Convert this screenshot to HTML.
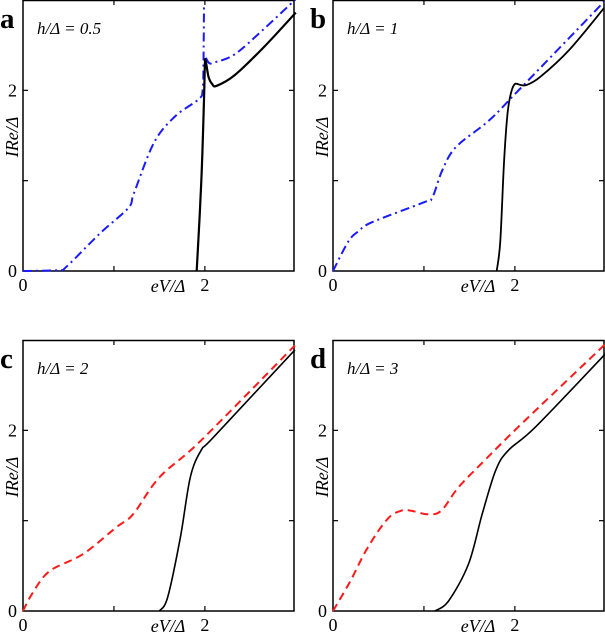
<!DOCTYPE html>
<html><head><meta charset="utf-8"><style>
body{margin:0;background:#fff}
svg{display:block;font-family:"Liberation Serif",serif}
</style></head><body>
<svg id="chart" width="605" height="634" viewBox="0 0 605 634" xmlns="http://www.w3.org/2000/svg"></svg>
<script>
const panelLetters = ['a','b','c','d'];
const panelTitles = ['h/Δ = 0.5','h/Δ = 1','h/Δ = 2','h/Δ = 3'];
const xTickLabels = ['0','2'];
const yTickLabels = ['0','2'];
// panel a
const aBlueX1 = [0,0.39,0.48,0.85,1.16,1.22,1.44,1.67,1.93,1.975,1.985,1.99];
const aBlueY1 = [0,0.01,0.05,0.42,0.7,0.86,1.42,1.71,1.9,2.0,2.3,2.95];
const aBlueX2 = [2.01,2.05,2.11,2.33,2.65,3.0];
const aBlueY2 = [2.36,2.3,2.31,2.4,2.68,3.01];
const aBlackX = [1.91,1.96,1.99,2.0,2.01,2.04,2.08,2.13,2.33,2.65,3.0];
const aBlackY = [0,0.97,1.9,2.3,2.32,2.15,2.07,2.05,2.17,2.48,2.86];
// panel b
const bBlueX = [0,0.17,0.28,0.43,1.0,1.09,1.2,1.35,1.72,2.06,2.98];
const bBlueY = [0,0.33,0.44,0.54,0.76,0.81,1.11,1.37,1.67,2.02,2.98];
const bBlackX = [1.8,1.84,1.88,1.92,1.96,2.0,2.06,2.13,2.28,2.6,2.98];
const bBlackY = [0,0.33,1.2,1.75,1.98,2.07,2.06,2.06,2.15,2.45,2.91];
// panel c
const cRedX = [0,0.1,0.29,0.66,1.03,1.21,1.5,1.96,2.99];
const cRedY = [0,0.19,0.44,0.63,0.93,1.07,1.48,1.89,2.94];
const cBlackX = [1.5,1.59,1.73,1.84,1.96,2.1,2.99];
const cBlackY = [0,0.15,0.81,1.48,1.78,1.93,2.89];
// panel d
const dRedX = [0,0.19,0.38,0.6,0.75,0.86,1.04,1.19,1.38,1.67,2.04,3.0];
const dRedY = [0,0.33,0.7,1.02,1.11,1.11,1.07,1.11,1.37,1.67,2.04,2.96];
const dBlackX = [1.12,1.27,1.49,1.64,1.79,1.93,2.23,3.0];
const dBlackY = [0,0.11,0.52,1.07,1.56,1.78,2.04,2.85];

const svg = document.getElementById('chart');
const NS = 'http://www.w3.org/2000/svg';
const boxes = [[23,0],[333,0],[23,340],[333,340]];
const W = 271, H = 271, XMAX = 2.98, YMAX = 3.0;
function mk(tag, attrs, parent){const e=document.createElementNS(NS,tag);for(const k in attrs)e.setAttribute(k,attrs[k]);(parent||svg).appendChild(e);return e;}
function smooth(P){
  let d='M'+P[0][0].toFixed(1)+','+P[0][1].toFixed(1);
  for(let i=0;i<P.length-1;i++){
    const p0=P[Math.max(0,i-1)],p1=P[i],p2=P[i+1],p3=P[Math.min(P.length-1,i+2)];
    const c1=[p1[0]+(p2[0]-p0[0])/6,p1[1]+(p2[1]-p0[1])/6];
    const c2=[p2[0]-(p3[0]-p1[0])/6,p2[1]-(p3[1]-p1[1])/6];
    d+=` C${c1[0].toFixed(1)},${c1[1].toFixed(1)} ${c2[0].toFixed(1)},${c2[1].toFixed(1)} ${p2[0].toFixed(1)},${p2[1].toFixed(1)}`;
  }
  return d;
}

const series = [
  [[aBlueX1,aBlueY1,'#1a1aff','9,4,2,4',2,'blue-dashdot-curve'],[aBlueX2,aBlueY2,'#1a1aff','9,4,2,4',2,'blue-dashdot-curve-upper'],[aBlackX,aBlackY,'#000','',2.2,'black-solid-curve']],
  [[bBlueX,bBlueY,'#1a1aff','9,4,2,4',2,'blue-dashdot-curve'],[bBlackX,bBlackY,'#000','',1.8,'black-solid-curve']],
  [[cRedX,cRedY,'#ff1a1a','8,5',2,'red-dashed-curve'],[cBlackX,cBlackY,'#000','',1.6,'black-solid-curve']],
  [[dRedX,dRedY,'#ff1a1a','8,5',2,'red-dashed-curve'],[dBlackX,dBlackY,'#000','',1.6,'black-solid-curve']]
];

boxes.forEach((b,i)=>{
  const [x0,y0]=b;
  const sx=v=>x0+v/XMAX*W, sy=v=>y0+H-v/YMAX*H;
  const g=mk('g',{});
  
  
  const fr=mk('rect',{x:x0,y:y0+0.5,width:W,height:H-0.5,fill:'none',stroke:'#000','stroke-width':1.5},g);
  
  
  [1,2].forEach(t=>{
    mk('line',{x1:sx(t),x2:sx(t),y1:y0+H,y2:y0+H-5,stroke:'#000','stroke-width':1.2},g);
    mk('line',{x1:sx(t),x2:sx(t),y1:y0,y2:y0+5,stroke:'#000','stroke-width':1.2},g);
    mk('line',{x1:x0,x2:x0+5,y1:sy(t),y2:sy(t),stroke:'#000','stroke-width':1.2},g);
    mk('line',{x1:x0+W,x2:x0+W-5,y1:sy(t),y2:sy(t),stroke:'#000','stroke-width':1.2},g);
  });
  [0,2].forEach((t,k)=>{
    const tx=mk('text',{x:sx(t),y:y0+H+20,'font-size':18,'text-anchor':'middle'},g);
    tx.textContent=xTickLabels[k];
    
    
    const ty=mk('text',{x:x0-6,y:sy(t)+6,'font-size':18,'text-anchor':'end'},g);
    ty.textContent=yTickLabels[k];
    
    
  });
  const xl=mk('text',{x:x0+145,y:y0+H+21,'font-size':18,'font-style':'italic','text-anchor':'middle'},g);
  xl.textContent='eV/Δ';
  
  
  const yl=mk('text',{x:0,y:0,'font-size':18,'font-style':'italic','text-anchor':'middle',transform:`translate(${x0-5},${y0+137}) rotate(-90)`},g);
  yl.textContent='IRe/Δ';
  
  
  const pl=mk('text',{x:x0-23,y:y0+28,'font-size':29,'font-weight':'bold'},g);
  pl.textContent=panelLetters[i];
  
  
  const pt=mk('text',{x:x0+14,y:y0+34,'font-size':17,'font-style':'italic'},g);
  pt.textContent=panelTitles[i];
  
  
  series[i].forEach(s=>{
    const [xs,ys,col,dash,wd,name]=s;
    const P=xs.map((v,k)=>[sx(v),sy(ys[k])]);
    const p=mk('path',{d:smooth(P),fill:'none',stroke:col,'stroke-width':wd,'stroke-dasharray':dash||'none','stroke-linejoin':'round'},g);
    
    
  });
});
</script>
</body></html>
